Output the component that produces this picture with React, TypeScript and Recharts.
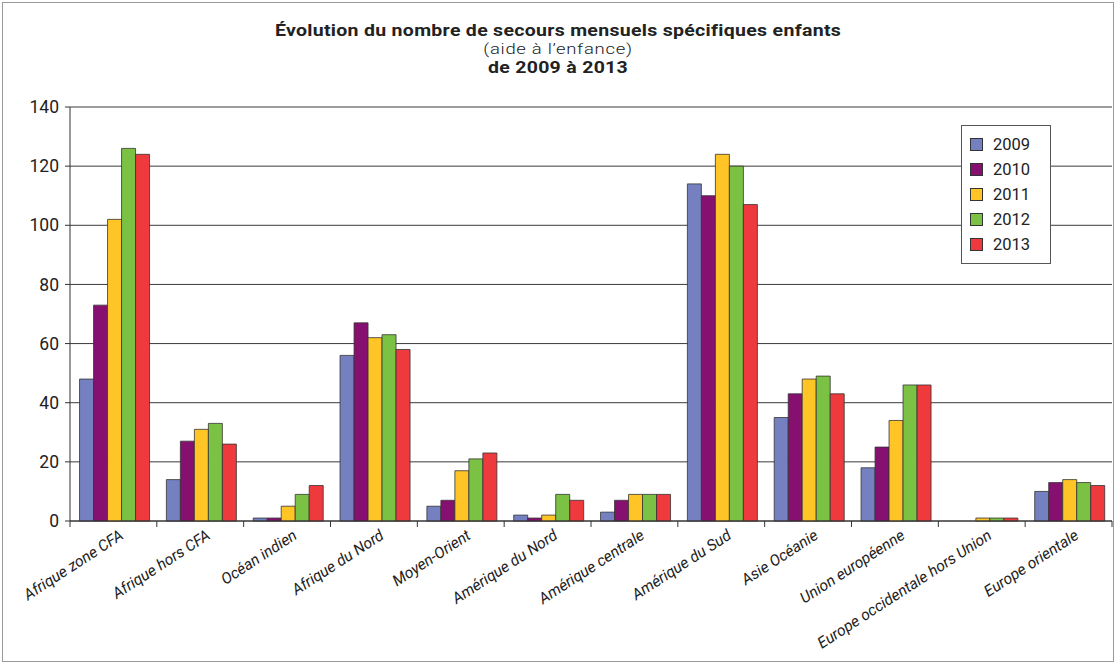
import React from 'react';
import { BarChart, Bar, XAxis, YAxis, CartesianGrid } from 'recharts';

const regions = [
  'Afrique zone CFA',
  'Afrique hors CFA',
  'Océan indien',
  'Afrique du Nord',
  'Moyen-Orient',
  'Amérique du Nord',
  'Amérique centrale',
  'Amérique du Sud',
  'Asie Océanie',
  'Union européenne',
  'Europe occidentale hors Union',
  'Europe orientale',
];

const years = ['2009', '2010', '2011', '2012', '2013'];

const v2009 = [48, 14, 1, 56, 5, 2, 3, 114, 35, 18, 0, 10];
const v2010 = [73, 27, 1, 67, 7, 1, 7, 110, 43, 25, 0, 13];
const v2011 = [102, 31, 5, 62, 17, 2, 9, 124, 48, 34, 1, 14];
const v2012 = [126, 33, 9, 63, 21, 9, 9, 120, 49, 46, 1, 13];
const v2013 = [124, 26, 12, 58, 23, 7, 9, 107, 43, 46, 1, 12];

const yTicks = [0, 20, 40, 60, 80, 100, 120, 140];

const colors = ['#7480BF', '#85106F', '#FFC425', '#7BC143', '#EF3A3D'];

const series = [v2009, v2010, v2011, v2012, v2013];
const data = regions.map((name, i) => {
  const row: Record<string, string | number> = { name };
  years.forEach((y, k) => {
    row[y] = series[k][i];
  });
  return row;
});

const W = 1116;
const H = 664;
const margin = { top: 107, right: 4, bottom: 0, left: 0 };
const yAxisW = 70;
const xAxisH = 143;
const step = (W - margin.left - margin.right - yAxisW) / regions.length;

const font = 'Roboto, "DejaVu Sans", sans-serif';

function XTick(props: any) {
  const { x, y, payload, index } = props;
  const last = index === regions.length - 1;
  const ax = x + 11;
  const ay = y + 9;
  return (
    <g>
      <line x1={x - step / 2} x2={x - step / 2} y1={y - 8} y2={y - 2} stroke="#333" />
      {last && <line x1={x + step / 2} x2={x + step / 2} y1={y - 8} y2={y - 2} stroke="#333" />}
      <text
        x={ax}
        y={ay}
        textAnchor="end"
        transform={`rotate(-33, ${ax}, ${ay})`}
        fontFamily={font}
        fontStyle="italic"
        fontSize={15.5}
        fill="#222"
      >
        {payload.value}
      </text>
    </g>
  );
}

function LegendBox() {
  return (
    <div
      style={{
        position: 'absolute',
        left: 961,
        top: 125,
        border: '1px solid #555',
        background: '#fff',
        padding: '6px 10px 6px 8px',
        width: 70,
      }}
    >
      {years.map((y, k) => (
        <div key={y} style={{ display: 'flex', alignItems: 'center', height: 25 }}>
          <span
            style={{
              width: 11,
              height: 11,
              background: colors[k],
              border: '1px solid #333',
              marginRight: 10,
            }}
          />
          <span style={{ fontFamily: font, fontSize: 16.5, color: '#222' }}>{y}</span>
        </div>
      ))}
    </div>
  );
}

function TitleLine(props: { text: string; top: number; size: number; weight: number; spacing: number }) {
  return (
    <div
      style={{
        position: 'absolute',
        left: 0,
        top: props.top,
        width: W,
        textAlign: 'center',
        lineHeight: 1,
      }}
    >
      <span
        style={{
          display: 'inline-block',
          fontFamily: font,
          fontSize: props.size,
          fontWeight: props.weight,
          letterSpacing: props.spacing,
          color: '#222',
          transform: 'scaleY(0.82)',
        }}
      >
        {props.text}
      </span>
    </div>
  );
}

export default function App() {
  return (
    <div
      style={{
        position: 'absolute',
        left: 0,
        top: 0,
        width: W,
        height: H,
        background: '#fff',
        overflow: 'hidden',
      }}
    >
      <div
        style={{
          position: 'absolute',
          left: 2,
          top: 2,
          width: W - 6,
          height: H - 6,
          border: '1px solid #999',
        }}
      />
      <BarChart
        width={W}
        height={H}
        data={data}
        margin={margin}
        barCategoryGap="11%"
        barGap={0}
        style={{ position: 'absolute', left: 0, top: 0 }}
      >
        <CartesianGrid vertical={false} stroke="#3a3a3a" strokeWidth={1} />
        <XAxis
          dataKey="name"
          interval={0}
          height={xAxisH}
          tickLine={false}
          axisLine={{ stroke: '#333' }}
          tick={<XTick />}
        />
        <YAxis
          width={yAxisW}
          domain={[0, 140]}
          ticks={yTicks}
          interval={0}
          axisLine={{ stroke: '#333' }}
          tickLine={{ stroke: '#333' }}
          tickSize={5}
          tick={{ fontFamily: font, fontSize: 17.5, fill: '#222', dx: -4 }}
        />
        {years.map((y, k) => (
          <Bar
            key={y}
            dataKey={y}
            fill={colors[k]}
            stroke="#333"
            strokeWidth={0.8}
            isAnimationActive={false}
          />
        ))}
      </BarChart>
      <TitleLine
        text="Évolution du nombre de secours mensuels spécifiques enfants"
        top={21}
        size={19.5}
        weight={700}
        spacing={0.3}
      />
      <TitleLine text="(aide à l’enfance)" top={40} size={18.5} weight={300} spacing={0.7} />
      <TitleLine text="de 2009 à 2013" top={58} size={19.5} weight={700} spacing={0.3} />
      <LegendBox />
    </div>
  );
}
